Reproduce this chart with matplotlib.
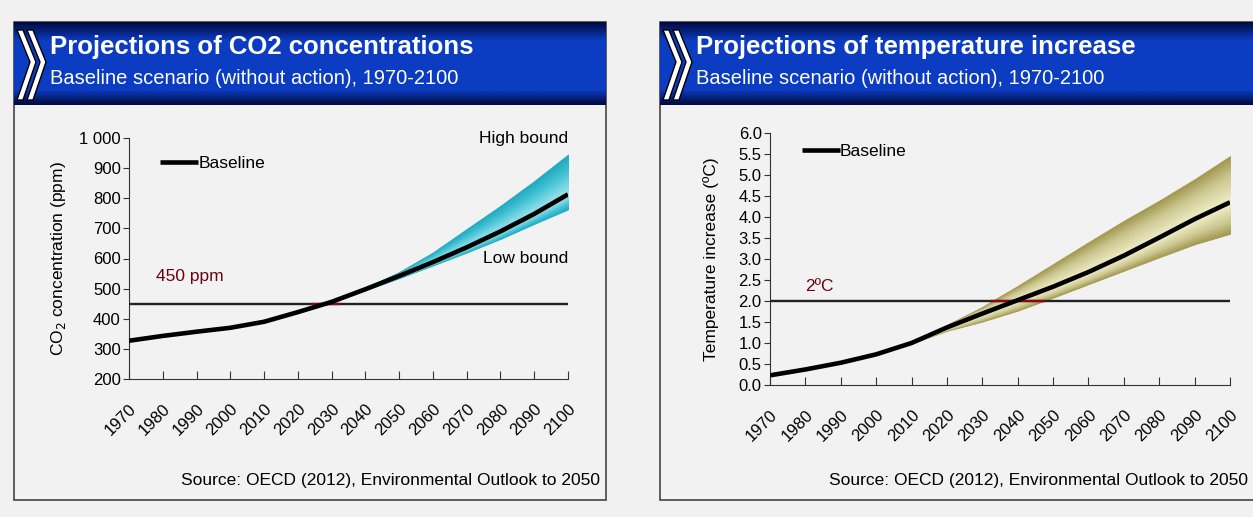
import numpy as np
import matplotlib
matplotlib.use('Agg')
import matplotlib.pyplot as plt
from matplotlib.patches import Rectangle, Polygon
from matplotlib.ticker import FuncFormatter

plt.rcParams['font.family'] = ['Liberation Sans Narrow', 'Liberation Sans', 'DejaVu Sans']

#
# data
#
years = [1970, 1980, 1990, 2000, 2010, 2020, 2030, 2040, 2050, 2060, 2070, 2080, 2090, 2100]

co2_base = [327, 343, 357, 370, 390, 422, 456, 498, 542, 588, 637, 690, 748, 813]
co2_high = [327, 343, 357, 370, 390, 422, 456, 503, 555, 620, 698, 775, 857, 945]
co2_low = [327, 343, 357, 370, 390, 422, 456, 495, 535, 577, 620, 665, 715, 763]

temp_base = [0.23, 0.37, 0.53, 0.73, 1.00, 1.37, 1.70, 2.02, 2.34, 2.69, 3.08, 3.51, 3.95, 4.35]
temp_high = [0.23, 0.37, 0.53, 0.73, 1.01, 1.43, 1.86, 2.36, 2.88, 3.40, 3.91, 4.39, 4.90, 5.45]
temp_low = [0.23, 0.37, 0.53, 0.73, 0.99, 1.29, 1.51, 1.77, 2.08, 2.40, 2.72, 3.04, 3.35, 3.60]

co2_ticks = [200, 300, 400, 500, 600, 700, 800, 900, 1000]
temp_ticks = [0.0, 0.5, 1.0, 1.5, 2.0, 2.5, 3.0, 3.5, 4.0, 4.5, 5.0, 5.5, 6.0]

co2_target = 450
temp_target = 2.0

W, H = 1253, 517
bg = '#f1f1f1'

fig = plt.figure(figsize=(W/100., H/100.), dpi=100)
fig.patch.set_facecolor(bg)


def fx(x):
    return x/float(W)


def fy(y):
    return 1.0 - y/float(H)


def lerp(c1, c2, t):
    c1 = np.array(matplotlib.colors.to_rgb(c1))
    c2 = np.array(matplotlib.colors.to_rgb(c2))
    return tuple(c1 + (c2-c1)*t)


def draw_panel(x0, x1, title, subtitle):
    # panel frame
    fig.patches.append(Rectangle((fx(x0), fy(500)), fx(x1-x0), fy(22)-fy(500), transform=fig.transFigure,
                                 facecolor='#f2f2f2', edgecolor='#444444', lw=1.2, zorder=-5))
    # blue header band with darker edges
    bax = fig.add_axes([fx(x0), fy(105), fx(x1-x0), fy(22)-fy(105)])
    grad = np.concatenate([np.linspace(0, 1, 12), np.ones(30), np.linspace(1, 0, 10)])
    cols = np.array([lerp('#020a40', '#0b3cc2', t) for t in grad])
    bax.imshow(cols[:, None, :], aspect='auto', extent=[0, 1, 0, 1])
    bax.set_xlim(0, 1)
    bax.set_ylim(0, 1)
    bax.axis('off')
    # two chevrons
    for dx in [0, 10]:
        xa = x0 + 3 + dx
        pts = [(xa, 30), (xa+13, 62), (xa, 100), (xa+6, 100), (xa+19, 62), (xa+6, 30)]
        fig.patches.append(Polygon([(fx(p[0]), fy(p[1])) for p in pts], closed=True, transform=fig.transFigure,
                                   facecolor='white', edgecolor='black', lw=1.0, zorder=5))
    fig.text(fx(x0+36), fy(47), title, color='white', fontsize=18.5, fontweight='bold', va='center', ha='left')
    fig.text(fx(x0+36), fy(78), subtitle, color='white', fontsize=14.5, va='center', ha='left')


def draw_band(ax, base, low, high, dark, mid, light):
    base = np.array(base, dtype=float)
    low = np.array(low, dtype=float)
    high = np.array(high, dtype=float)
    for t in np.linspace(1.0, 0.08, 14):
        if t > 0.6:
            c = lerp(dark, mid, (1.0 - t)/0.4)
        else:
            c = lerp(mid, light, (0.6 - t)/0.52)
        ax.fill_between(years, base - t*(base-low), base + t*(high-base), facecolor=c, edgecolor=c,
                        lw=0.6, zorder=2)


def draw_target(ax, level, base, low, high, pad):
    ax.axhline(level, color='#222222', lw=1.7, zorder=3)
    # the line turns dark red where it runs through the band
    x_hi = np.interp(level, high, years)
    x_lo = np.interp(level, low, years)
    ax.plot([x_hi - pad, x_lo + pad], [level, level], color='#8a0a14', lw=1.7, zorder=3.5)


def style_axes(ax):
    ax.set_facecolor('#f2f2f2')
    ax.spines['top'].set_visible(False)
    ax.spines['right'].set_visible(False)
    ax.spines['left'].set_color('#333333')
    ax.spines['bottom'].set_color('#333333')
    ax.set_xlim(1970, 2100)
    ax.set_xticks(years)
    ax.set_xticklabels([str(y) for y in years], rotation=45, ha='right', va='top',
                       rotation_mode='anchor', fontsize=12)
    ax.tick_params(axis='x', direction='in', length=6, pad=16, color='#333333')
    ax.tick_params(axis='y', direction='out', length=4, color='#333333', labelsize=12, pad=2)


draw_panel(14, 606, 'Projections of CO2 concentrations', 'Baseline scenario (without action), 1970-2100')
draw_panel(660, 1262, 'Projections of temperature increase', 'Baseline scenario (without action), 1970-2100')

#
# CO2 panel
#
ax1 = fig.add_axes([fx(129), fy(379), fx(568-129), fy(138)-fy(379)])
style_axes(ax1)
ax1.set_ylim(200, 1000)
ax1.set_yticks(co2_ticks)
ax1.yaxis.set_major_formatter(FuncFormatter(lambda v, p: '{:,.0f}'.format(v).replace(',', ' ')))
draw_band(ax1, co2_base, co2_low, co2_high, '#22aac0', '#46c4d6', '#9ee2ea')
draw_target(ax1, co2_target, co2_base, co2_low, co2_high, 4)
ax1.plot(years, co2_base, color='black', lw=3.3, zorder=4, label='Baseline',
         solid_capstyle='butt', solid_joinstyle='round')
ax1.legend(loc='upper left', bbox_to_anchor=(0.035, 0.99), frameon=False, fontsize=12.5,
           handlelength=2.2, handletextpad=0.0)
ax1.text(2100, 1000, 'High bound', ha='right', va='center', fontsize=12.5)
ax1.text(2100, 600, 'Low bound', ha='right', va='center', fontsize=12.5)
ax1.text(1978, 540, '450 ppm', ha='left', va='center', fontsize=12.5, color='#6a0010')
ax1.set_ylabel('CO$_2$ concentration (ppm)', fontsize=12.5, labelpad=8,
               family=['Liberation Sans', 'DejaVu Sans'])
fig.text(fx(600), fy(481), 'Source: OECD (2012), Environmental Outlook to 2050', ha='right', va='center',
         fontsize=12.5)

#
# temperature panel
#
ax2 = fig.add_axes([fx(770), fy(385), fx(1230-770), fy(133)-fy(385)])
style_axes(ax2)
ax2.set_ylim(0, 6)
ax2.set_yticks(temp_ticks)
ax2.yaxis.set_major_formatter(FuncFormatter(lambda v, p: '%.1f' % v))
draw_band(ax2, temp_base, temp_low, temp_high, '#a39a52', '#cdc891', '#efecc6')
draw_target(ax2, temp_target, temp_base, temp_low, temp_high, 0)
ax2.plot(years, temp_base, color='black', lw=3.3, zorder=4, label='Baseline',
         solid_capstyle='butt', solid_joinstyle='round')
ax2.legend(loc='upper left', bbox_to_anchor=(0.035, 1.02), frameon=False, fontsize=12.5,
           handlelength=2.2, handletextpad=0.0)
ax2.text(1980, 2.35, '2ºC', ha='left', va='center', fontsize=12.5, color='#6a0010')
ax2.set_ylabel('Temperature increase (ºC)', fontsize=12.5, labelpad=14,
               family=['Liberation Sans', 'DejaVu Sans'])
fig.text(fx(1248), fy(481), 'Source: OECD (2012), Environmental Outlook to 2050', ha='right', va='center',
         fontsize=12.5)

fig.savefig('out.png', dpi=100, facecolor=bg)
